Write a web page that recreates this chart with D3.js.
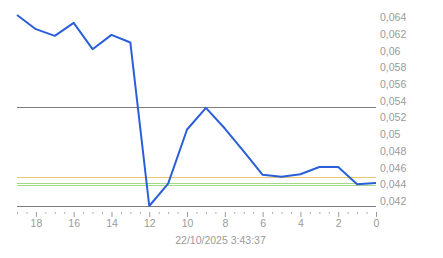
<!DOCTYPE html>
<html lang="en">
<head>
    <meta charset="UTF-8">
    <title>chart</title>
    <style>
        body { margin: 0; background: #fff; }
        text { font-family: "Liberation Sans", Arial, sans-serif; font-size: 10.5px; fill: #9a9a9a; }
    </style>
</head>
<body>
    <div id="chart"></div>
    <script src="https://d3js.org/d3.v7.min.js"></script>
    <script>
        // x = steps back from now, y = price
        const xs = [19, 18, 17, 16, 15, 14, 13, 12, 11, 10, 9, 8, 7, 6, 5, 4, 3, 2, 1, 0];
        const values = [0.0643, 0.0626, 0.0618, 0.06336, 0.0602, 0.06192, 0.0610, 0.0414, 0.04409, 0.05057,
                        0.05316, 0.05069, 0.04796, 0.04514, 0.0449, 0.0452, 0.04608, 0.04608, 0.0440, 0.04416];
        const refLevels = [0.05321, 0.04488, 0.04421, 0.04388];
        const refColors = ["#7d7d7d", "#eac572", "#a6d989", "#a6d989"];
        const xTicks = [18, 16, 14, 12, 10, 8, 6, 4, 2, 0];
        const yTicks = [0.042, 0.044, 0.046, 0.048, 0.05, 0.052, 0.054, 0.056, 0.058, 0.06, 0.062, 0.064];
        const stamp = "22/10/2025 3:43:37";

        const width = 443, height = 258;
        const m = { left: 17, right: 376, top: 15, bottom: 206 };

        const svg = d3.select("#chart").append("svg")
            .attr("width", width)
            .attr("height", height);

        const x = d3.scaleLinear().domain([19, 0]).range([m.left, m.right]);
        const y = d3.scaleLinear().domain(d3.extent(values)).range([m.bottom, m.top]);

        const fmt = d3.formatLocale({ decimal: ",", thousands: ".", grouping: [3], currency: ["", ""] }).format(".3~f");

        // reference lines
        svg.append("g").selectAll("rect")
            .data(refLevels)
            .join("rect")
            .attr("x", m.left)
            .attr("width", m.right - m.left)
            .attr("y", d => Math.round(y(d)))
            .attr("height", 1)
            .style("fill", (d, i) => refColors[i]);

        // bottom axis line
        svg.append("line")
            .attr("x1", m.left).attr("x2", m.right)
            .attr("y1", m.bottom + 0.5).attr("y2", m.bottom + 0.5)
            .attr("stroke", "#7d7d7d");

        // minor ticks every half step
        const minor = d3.range(0, 19.01, 0.5).filter(d => !xTicks.includes(d));
        svg.append("g")
            .attr("transform", `translate(0,${m.bottom + 6})`)
            .call(d3.axisBottom(x).tickValues(minor).tickSize(2).tickFormat(""))
            .call(g => g.select(".domain").remove())
            .call(g => g.selectAll("line").attr("stroke", "#b0b0b0"));

        // major ticks + labels
        svg.append("g")
            .attr("transform", `translate(0,${m.bottom + 6})`)
            .call(d3.axisBottom(x).tickValues(xTicks).tickSize(5).tickPadding(3).tickFormat(d3.format("d")))
            .call(g => g.select(".domain").remove())
            .call(g => g.selectAll("line").attr("stroke", "#9a9a9a"))
            .call(g => g.selectAll("text").attr("fill", "#9a9a9a").style("font-size", "10.5px").attr("font-family", null));

        // right axis labels
        svg.append("g")
            .attr("transform", `translate(${m.right},0)`)
            .call(d3.axisRight(y).tickValues(yTicks).tickSize(0).tickPadding(4).tickFormat(fmt))
            .call(g => g.select(".domain").remove())
            .call(g => g.selectAll("text").attr("fill", "#9a9a9a").style("font-size", "10.5px").attr("font-family", null));

        // price line
        const line = d3.line()
            .x((d, i) => x(xs[i]))
            .y(d => y(d));

        svg.append("path")
            .datum(values)
            .attr("d", line)
            .attr("fill", "none")
            .attr("stroke", "#2a5fd8")
            .attr("stroke-width", 2)
            .attr("stroke-linejoin", "round");

        svg.append("text")
            .attr("x", (m.left + m.right) / 2 + 24)
            .attr("y", 244)
            .attr("text-anchor", "middle")
            .text(stamp);
    </script>
</body>
</html>
